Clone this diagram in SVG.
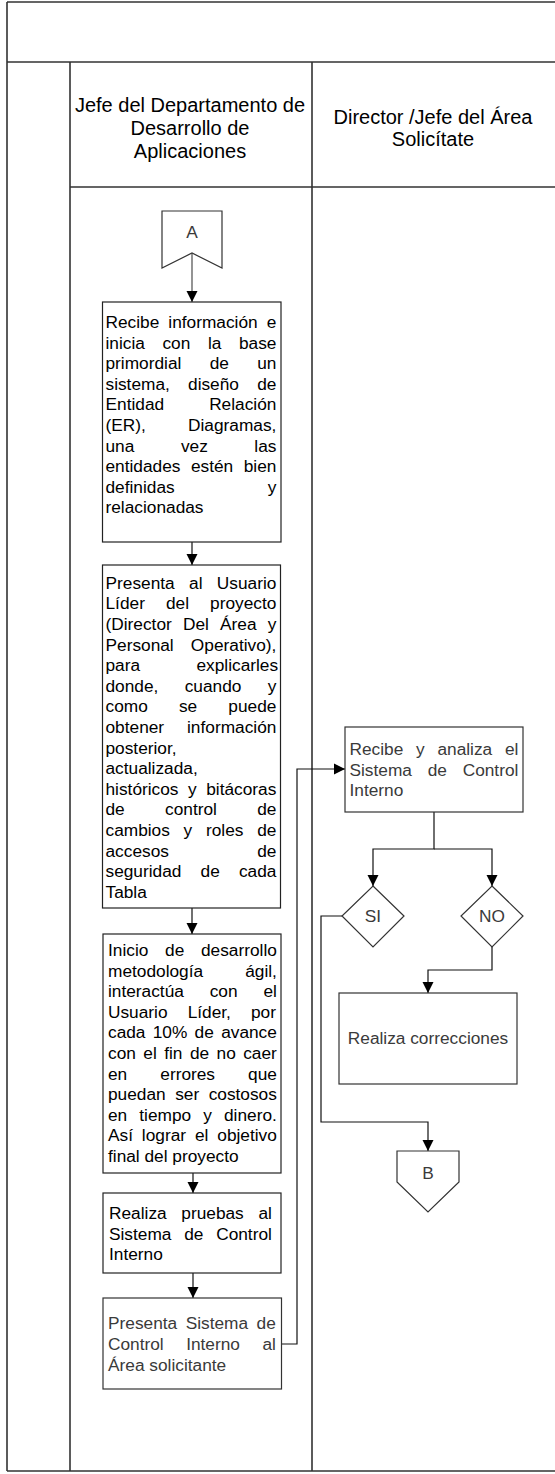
<svg xmlns="http://www.w3.org/2000/svg" width="555" height="1474" viewBox="0 0 555 1474">
<style>
.frame{fill:none;stroke:#333;stroke-width:1.6}
.box{fill:#fff;stroke:#222;stroke-width:1.2}
.lbox{fill:#fff;stroke:#333;stroke-width:1.2}
.t{font-family:"Liberation Sans",Arial,Helvetica,sans-serif;font-size:17.3px;fill:#000}
.lt{font-family:"Liberation Sans",Arial,Helvetica,sans-serif;font-size:17.3px;fill:#3a3a3a}
.h{font-family:"Liberation Sans",Arial,Helvetica,sans-serif;font-size:20px;fill:#000;text-anchor:middle}
.c{text-anchor:middle}
.con{fill:none;stroke:#111;stroke-width:1.2}
.cong{fill:none;stroke:#666;stroke-width:1.4}
</style>
<defs>
<marker id="ah" markerUnits="userSpaceOnUse" markerWidth="12" markerHeight="12" viewBox="0 0 12 12" refX="11" refY="6" orient="auto">
<path d="M0,0.5 L11,6 L0,11.5 Z" fill="#000"/>
</marker>
</defs>
<g id="frame">
<path class="frame" d="M7,2 H555 M7,2 V1471 M7,62 H555 M70,62 V1471 M312,62 V1471 M70,187 H555 M7,1471 H555"/>
</g>
<g id="headers">
<text class="h" x="190" y="112">Jefe del Departamento de</text>
<text class="h" x="190" y="135">Desarrollo de</text>
<text class="h" x="190" y="158">Aplicaciones</text>
<text class="h" x="433" y="124">Director /Jefe del Área</text>
<text class="h" x="433" y="146">Solicítate</text>
</g>
<g id="connectors">
<path class="cong" d="M192,253 V302" marker-end="url(#ah)"/>
<path class="con" d="M192,542 V565" marker-end="url(#ah)"/>
<path class="con" d="M192,908 V934" marker-end="url(#ah)"/>
<path class="con" d="M193,1173 V1193" marker-end="url(#ah)"/>
<path class="con" d="M193,1273 V1298" marker-end="url(#ah)"/>
<path class="con" d="M281,1344 H297 V769 H345" marker-end="url(#ah)"/>
<path class="con" d="M434,812 V849 H373 V886" marker-end="url(#ah)"/>
<path class="con" d="M434,849 H492 V886" marker-end="url(#ah)"/>
<path class="con" d="M342,916 H321 V1122 H428 V1151" marker-end="url(#ah)"/>
<path class="con" d="M492,947 V970 H428 V993" marker-end="url(#ah)"/>
</g>
<g id="connA">
<path class="lbox" d="M162,211 H222 V268 L192,253 L162,268 Z"/>
<text class="lt c" x="192" y="238">A</text>
</g>
<g id="box1">
<rect class="box" x="102.5" y="302" width="178.5" height="240"/>
<text class="t" x="105.5" y="328" word-spacing="4.26">Recibe información e</text>
<text class="t" x="105.5" y="348.6" word-spacing="12.77">inicia con la base</text>
<text class="t" x="105.5" y="369.2" word-spacing="23.49">primordial de un</text>
<text class="t" x="105.5" y="389.8" word-spacing="13.39">sistema, diseño de</text>
<text class="t" x="105.5" y="410.4" word-spacing="40.23">Entidad Relación</text>
<text class="t" x="105.5" y="431" word-spacing="37.39">(ER), Diagramas,</text>
<text class="t" x="105.5" y="451.6" word-spacing="41.75">una vez las</text>
<text class="t" x="105.5" y="472.2" word-spacing="5.68">entidades estén bien</text>
<text class="t" x="105.5" y="492.8" word-spacing="88.31">definidas y</text>
<text class="t" x="105.5" y="513.4">relacionadas</text>
</g>
<g id="box2">
<rect class="box" x="102.5" y="565" width="178" height="343"/>
<text class="t" x="105.5" y="588.7" word-spacing="9.55">Presenta al Usuario</text>
<text class="t" x="105.5" y="609.3" word-spacing="16.26">Líder del proyecto</text>
<text class="t" x="105.5" y="629.9" word-spacing="6.37">(Director Del Área y</text>
<text class="t" x="105.5" y="650.5" word-spacing="12.36">Personal Operativo),</text>
<text class="t" x="105.5" y="671.1" word-spacing="51.59">para explicarles</text>
<text class="t" x="105.5" y="691.7" word-spacing="21.54">donde, cuando y</text>
<text class="t" x="105.5" y="712.3" word-spacing="26.36">como se puede</text>
<text class="t" x="105.5" y="732.9" word-spacing="18.12">obtener información</text>
<text class="t" x="105.5" y="753.5">posterior,</text>
<text class="t" x="105.5" y="774.1">actualizada,</text>
<text class="t" x="105.5" y="794.7" word-spacing="4.74">históricos y bitácoras</text>
<text class="t" x="105.5" y="815.3" word-spacing="35.5">de control de</text>
<text class="t" x="105.5" y="835.9" word-spacing="8.93">cambios y roles de</text>
<text class="t" x="105.5" y="856.5" word-spacing="83.5">accesos de</text>
<text class="t" x="105.5" y="877.1" word-spacing="14.33">seguridad de cada</text>
<text class="t" x="105.5" y="897.7">Tabla</text>
</g>
<g id="box3">
<rect class="box" x="103" y="934" width="178" height="239"/>
<text class="t" x="108" y="956" word-spacing="11.91">Inicio de desarrollo</text>
<text class="t" x="108" y="976.6" word-spacing="37.26">metodología ágil,</text>
<text class="t" x="108" y="997.2" word-spacing="21.04">interactúa con el</text>
<text class="t" x="108" y="1017.8" word-spacing="15.28">Usuario Líder, por</text>
<text class="t" x="108" y="1038.4" word-spacing="2.48">cada 10% de avance</text>
<text class="t" x="108" y="1059" word-spacing="2.64">con el fin de no caer</text>
<text class="t" x="108" y="1079.6" word-spacing="28.25">en errores que</text>
<text class="t" x="108" y="1100.2" word-spacing="4.69">puedan ser costosos</text>
<text class="t" x="108" y="1120.8" word-spacing="7.29">en tiempo y dinero.</text>
<text class="t" x="108" y="1141.4" word-spacing="4.09">Así lograr el objetivo</text>
<text class="t" x="108" y="1162">final del proyecto</text>
</g>
<g id="box4">
<rect class="box" x="103" y="1193" width="178" height="80"/>
<text class="t" x="109" y="1219" word-spacing="9.87">Realiza pruebas al</text>
<text class="t" x="109" y="1239.5" word-spacing="7.95">Sistema de Control</text>
<text class="t" x="109" y="1260">Interno</text>
</g>
<g id="box5">
<rect class="lbox" x="103" y="1298" width="178.5" height="91"/>
<text class="lt" x="108" y="1329" word-spacing="3.71">Presenta Sistema de</text>
<text class="lt" x="108" y="1350" word-spacing="17.65">Control Interno al</text>
<text class="lt" x="108" y="1371">Área solicitante</text>
</g>
<g id="recibe">
<rect class="lbox" x="345" y="727" width="178" height="85"/>
<text class="lt" x="349.5" y="755" word-spacing="7.94">Recibe y analiza el</text>
<text class="lt" x="349.5" y="776" word-spacing="10.95">Sistema de Control</text>
<text class="lt" x="349.5" y="796">Interno</text>
</g>
<g id="si">
<path class="lbox" d="M373,886 L404,916 L373,947 L342,916 Z"/>
<text class="lt c" x="373" y="922">SI</text>
</g>
<g id="no">
<path class="lbox" d="M492,886 L523,916 L492,947 L461,916 Z"/>
<text class="lt c" x="492" y="922">NO</text>
</g>
<g id="correcciones">
<rect class="lbox" x="339" y="993" width="178" height="91"/>
<text class="lt c" x="428" y="1044">Realiza correcciones</text>
</g>
<g id="connB">
<path class="lbox" d="M397,1151 H459 V1182 L428,1212 L397,1182 Z"/>
<text class="lt c" x="428" y="1179">B</text>
</g>
</svg>
